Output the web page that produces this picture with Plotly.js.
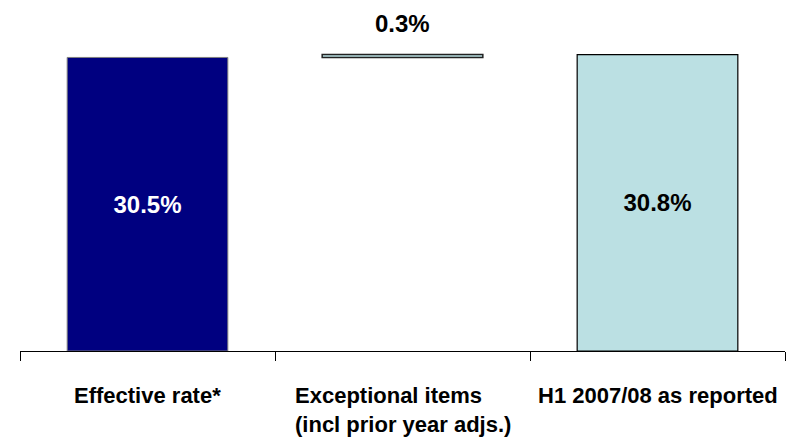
<!DOCTYPE html>
<html>
<head>
<meta charset="utf-8">
<script src="https://cdn.plot.ly/plotly-3.0.1.min.js"></script>
<style>html,body{margin:0;padding:0;background:#fff;}#chart{width:787px;height:444px;}</style>
</head>
<body>
<div id="chart"></div>
<script>
// Data
const categories = ["Effective rate*", "Exceptional items<br>(incl prior year adjs.)", "H1 2007/08 as reported"];
const values = [30.5, 0.3, 30.8];
const bases = [0, 30.5, 0];
const labelText = values.map(v => v.toFixed(1) + "%");

const FONT = "Liberation Sans, Arial, sans-serif";
const xs = categories.map((c, i) => i);

const barTrace = {
  type: "bar",
  x: xs,
  y: values,
  base: bases,
  width: 0.63,
  marker: {
    color: ["#000080", "#BBE0E3", "#BBE0E3"],
    line: { color: ["#7f7f7f", "#222222", "#000000"], width: [1, 1.5, 1.2] }
  },
  text: [labelText[0], "", labelText[2]],
  textposition: "inside",
  insidetextanchor: "middle",
  textangle: 0,
  textfont: { family: FONT, size: 24, color: ["#ffffff", "#000000", "#000000"], weight: "bold" },
  hoverinfo: "none"
};

const annotations = [];
// category labels
categories.forEach((c, i) => {
  annotations.push({
    x: i, xref: "x", y: 0, yref: "paper",
    xanchor: "center", yanchor: "top", yshift: -30,
    text: "<b>" + c + "</b>", showarrow: false, align: "left",
    font: { family: FONT, size: 22, color: "#000000" }
  });
});
// floating delta label
annotations.push({
  x: 1, xref: "x", y: bases[1] + values[1], yref: "y",
  xanchor: "center", yanchor: "bottom", yshift: 16,
  text: "<b>" + labelText[1] + "</b>", showarrow: false,
  font: { family: FONT, size: 24, color: "#000000" }
});

const layout = {
  width: 787, height: 444,
  margin: { l: 20, r: 2, t: 43, b: 92.5, pad: 0 },
  paper_bgcolor: "#ffffff", plot_bgcolor: "#ffffff",
  showlegend: false,
  xaxis: {
    type: "linear", range: [-0.5, 2.5],
    tickvals: [-0.5, 0.5, 1.5, 2.5], showticklabels: false,
    ticks: "outside", ticklen: 9, tickwidth: 1, tickcolor: "#000000",
    showline: true, linecolor: "#000000", linewidth: 1,
    showgrid: false, zeroline: false, fixedrange: true
  },
  yaxis: { range: [0, 32], visible: false, showgrid: false, zeroline: false, fixedrange: true },
  annotations: annotations,
  font: { family: FONT }
};

Plotly.newPlot("chart", [barTrace], layout, { staticPlot: true, displayModeBar: false });
</script>
</body>
</html>
